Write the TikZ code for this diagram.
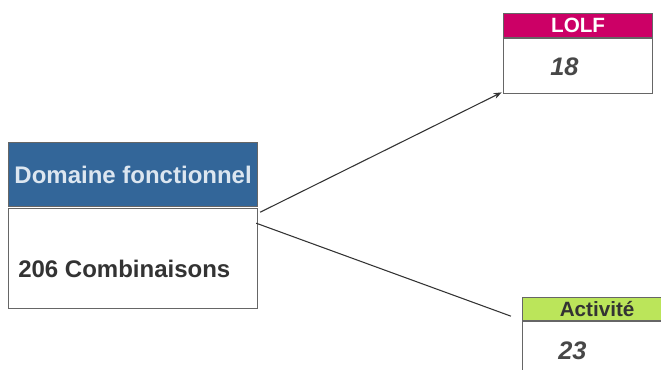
\documentclass[tikz,border=0pt]{standalone}
\usepackage{fontspec}
\setmainfont{Liberation Sans}
\usetikzlibrary{positioning,arrows.meta}
\definecolor{domblue}{HTML}{336699}
\definecolor{domtext}{HTML}{DCE6F0}
\definecolor{lolfpink}{HTML}{CC0066}
\definecolor{actgreen}{HTML}{BBE55A}
\definecolor{boxgray}{HTML}{666666}
\definecolor{ink}{HTML}{333333}

\begin{document}
\begin{tikzpicture}[
  x=0.75pt, y=-0.75pt,
  box/.style={draw=boxgray, line width=0.9pt, anchor=north west, inner sep=0pt},
  bigtext/.style={font=\fontsize{18}{20}\selectfont\bfseries, inner sep=0pt},
  headtext/.style={font=\fontsize{15.5}{17}\selectfont\bfseries, inner sep=0pt},
  numtext/.style={font=\fontsize{19}{21}\selectfont\bfseries\itshape, text=ink!90, inner sep=0pt, anchor=west},
  link/.style={draw=ink, line width=0.8pt},
]
\clip (0,0) rectangle (661,370);
\useasboundingbox (0,0) rectangle (661,370);

\node[box, fill=domblue, minimum width=249*0.75pt, minimum height=64*0.75pt] (dom) at (8,142) {};
\node[bigtext, text=domtext] (domlabel) at (dom.center) {Domaine fonctionnel};
\node[box, fill=white, minimum width=249*0.75pt, minimum height=100*0.75pt, below=0.75pt of dom.south west, anchor=north west] (combi) {};
\node[bigtext, text=ink, anchor=west] (combilabel) at ([xshift=7.5pt, yshift=-7.5pt]combi.west) {206 Combinaisons};

\node[box, fill=lolfpink, minimum width=149*0.75pt, minimum height=24*0.75pt] (lolf) at (503,13) {};
\node[headtext, text=white] (lolflabel) at (lolf.center) {LOLF};
\node[box, fill=white, minimum width=149*0.75pt, minimum height=55*0.75pt, anchor=north west] (lolfbody) at (lolf.south west) {};
\node[numtext] (lolfnum) at ([xshift=47*0.75pt]lolfbody.west) {18};

\node[box, fill=actgreen, minimum width=149*0.75pt, minimum height=23*0.75pt] (act) at (522,297) {};
\node[headtext, text=ink] (actlabel) at (act.center) {Activité};
\node[box, fill=white, minimum width=149*0.75pt, minimum height=55*0.75pt, anchor=north west] (actbody) at (act.south west) {};
\node[numtext] (actnum) at ([xshift=36*0.75pt, yshift=-0.75pt]actbody.west) {23};

\coordinate (actend) at ([xshift=-8.25pt, yshift=3.75pt]act.south west);

\draw[link, -{Stealth[length=6pt, width=4.5pt]}] ([xshift=1.5pt, yshift=-3pt]combi.north east) -- ([xshift=-1pt, yshift=1.5pt]lolfbody.south west);
\draw[link] ([xshift=-1.5pt, yshift=-11.25pt]combi.north east) -- (actend);
\end{tikzpicture}
\end{document}
